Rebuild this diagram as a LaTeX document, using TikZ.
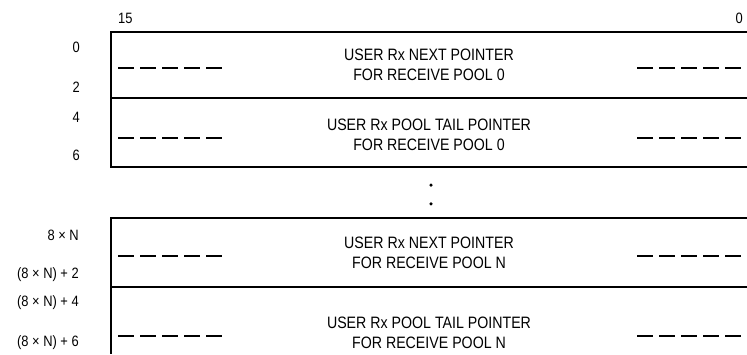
\documentclass[tikz,border=0pt]{standalone}
\usepackage{fontspec}
\setmainfont{Liberation Sans}[FakeStretch=0.86]
\usepackage{tikz}
\usetikzlibrary{positioning}

\begin{document}
\begin{tikzpicture}[x=1pt, y=-1pt,
    frame/.style={line width=1.6pt},
    gapline/.style={line width=1.1pt, dash pattern=on 16pt off 6pt},
    entry/.style={align=center, inner sep=0pt,
                  font=\fontsize{16.5}{19.5}\selectfont},
    offset/.style={anchor=east, inner sep=0pt,
                   font=\fontsize{15}{17}\selectfont},
    bitno/.style={inner sep=0pt, font=\fontsize{15}{17}\selectfont},
    more/.style={circle, fill, inner sep=0pt, minimum size=3.5pt}
]
\useasboundingbox (0,0) rectangle (747,354);

% bit numbers
\node[bitno, anchor=west] (msb) at (118,18) {15};
\node[bitno, anchor=east] (lsb) at (743,18) {0};

% frame of the table
\coordinate (tl1) at (111,32);
\coordinate (bl1) at (111,167);
\coordinate (tl2) at (111,218);
\coordinate (bl2) at (111,354);
\draw[frame] (747,32) -- (tl1) -- (bl1) -- (747,167);
\draw[frame] (111,98) -- (747,98);
\draw[frame] (747,218) -- (tl2) -- (bl2);
\draw[frame] (111,287) -- (747,287);

% entries
\node[entry] (next0) at (429,65) {USER Rx NEXT POINTER\\FOR RECEIVE POOL 0};
\node[entry] (tail0) at (429,135) {USER Rx POOL TAIL POINTER\\FOR RECEIVE POOL 0};
\node[entry] (nextN) at (429,253) {USER Rx NEXT POINTER\\FOR RECEIVE POOL N};
\node[entry] (tailN) at (429,333) {USER Rx POOL TAIL POINTER\\FOR RECEIVE POOL N};

% unused bits
\foreach \y in {68,138,256,336} {
  \draw[gapline] (118,\y) -- (224,\y);
  \draw[gapline] (637,\y) -- (743,\y);
}

% more pools
\node[more] (dot1) at (431,185) {};
\node[more, below=15pt of dot1] (dot2) {};

% byte offsets
\node[offset] (off0) at (80,47) {0};
\node[offset] (off2) at (80,87) {2};
\node[offset] (off4) at (80,117) {4};
\node[offset] (off6) at (80,155) {6};
\node[offset] (offN0) at (79,235) {8 × N};
\node[offset] (offN2) at (79,275) {(8 × N) + 2};
\node[offset] (offN4) at (79,303) {(8 × N) + 4};
\node[offset] (offN6) at (79,343) {(8 × N) + 6};
\end{tikzpicture}
\end{document}
